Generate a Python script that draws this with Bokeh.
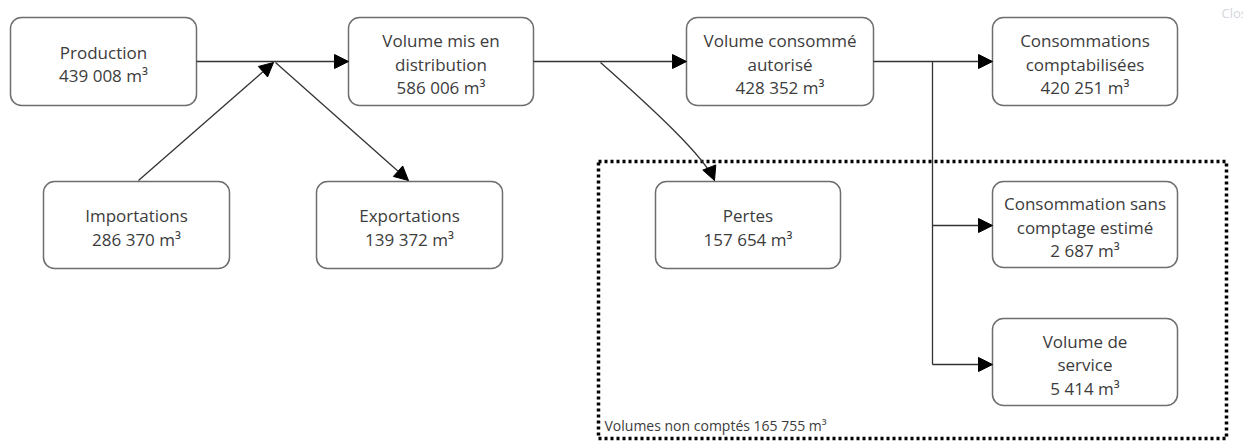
from bokeh.plotting import figure
from bokeh.models import Range1d, Arrow, NormalHead, ColumnDataSource
from bokeh.embed import file_html
from bokeh.resources import INLINE
from bokeh.core.properties import value

# ---------------- data ----------------
node_labels = [
    "Production",
    "Volume mis en\ndistribution",
    "Volume consommé\nautorisé",
    "Consommations\ncomptabilisées",
    "Importations",
    "Exportations",
    "Pertes",
    "Consommation sans\ncomptage estimé",
    "Volume de\nservice",
]
node_volumes = [439008, 586006, 428352, 420251, 286370, 139372, 157654, 2687, 5414]
group_label = "Volumes non comptés"
group_volume = 165755
unit = "m³"

# ---------------- layout (picture pixels) ----------------
box_left = [10, 348, 686, 992, 43, 316, 655, 992, 992]
box_right = [196, 533, 873, 1177, 229, 502, 840, 1177, 1177]
box_top = [17, 17, 17, 17, 181, 181, 181, 181, 318]
box_bottom = [105, 105, 105, 105, 268, 268, 268, 267, 405]

group_box = dict(left=598, right=1226, top=161, bottom=438)

# straight arrows: (x_start, y_start, x_end, y_end)
arrows = [
    (196, 61, 348, 61),
    (138, 180, 273, 62),
    (275, 62, 408, 180),
    (533, 61, 686, 61),
    (873, 61, 992, 61),
    (932, 225, 992, 225),
    (932, 364, 992, 364),
]
# plain segments
segments = [(932, 61, 932, 364)]


def fmt(v):
    return f"{v:,}".replace(",", " ") + " " + unit


W, H = 1243, 442
p = figure(width=W, height=H, output_backend="svg", toolbar_location=None,
           x_range=Range1d(0, W), y_range=Range1d(H, 0),
           x_axis_type=None, y_axis_type=None, min_border=0)
p.grid.visible = False
p.outline_line_color = None
p.background_fill_color = "white"

# dotted group frame
p.quad(left=[group_box["left"]], right=[group_box["right"]],
       top=[group_box["top"]], bottom=[group_box["bottom"]],
       fill_color=None, line_color="black", line_width=3.5, line_dash="3 3")

# connectors
LINE = "#333333"
p.segment(x0=[s[0] for s in segments], y0=[s[1] for s in segments],
          x1=[s[2] for s in segments], y1=[s[3] for s in segments],
          line_color=LINE, line_width=1.3)
for (xs, ys, xe, ye) in arrows:
    p.add_layout(Arrow(x_start=xs, y_start=ys, x_end=xe, y_end=ye,
                       line_color=LINE, line_width=1.3,
                       end=NormalHead(size=14, fill_color="black", line_color="black")))

# curved link to "Pertes"
p.bezier(x0=[600], y0=[62], x1=[714], y1=[180], cx0=[652], cy0=[108],
         cx1=[704], cy1=[156], line_color=LINE, line_width=1.3)
p.add_layout(Arrow(x_start=710, y_start=170, x_end=714, y_end=180,
                   line_alpha=0,
                   end=NormalHead(size=14, fill_color="black", line_color="black")))

# boxes
p.quad(left=box_left, right=box_right, top=box_top, bottom=box_bottom,
       fill_color="white", line_color="#6e6e6e", line_width=1.5,
       border_radius=11)

# box texts
tx, ty, tt = [], [], []
for i, lab in enumerate(node_labels):
    lines = lab.split("\n") + [fmt(node_volumes[i])]
    n = len(lines)
    cx = (box_left[i] + box_right[i]) / 2
    cy = (box_top[i] + box_bottom[i]) / 2
    for k, line in enumerate(lines):
        tx.append(cx)
        ty.append(cy + 2.5 + (k - (n - 1) / 2) * 23.5)
        tt.append(line)
src = ColumnDataSource(dict(x=tx, y=ty, text=tt))
p.text(x="x", y="y", text="text", source=src, text_align="center",
       text_baseline="middle", text_font=value("Open Sans"),
       text_font_size="17px", text_color="#3c3c3c")

# group label
p.text(x=[604], y=[425], text=[f"{group_label} {fmt(group_volume)}"],
       text_align="left", text_baseline="middle",
       text_font=value("Open Sans"), text_font_size="14px", text_color="#3c3c3c")

# faint close button (partly outside the window, as in the reference)
p.text(x=[1221], y=[12], text=["Close"], text_align="left", text_baseline="middle",
       text_font=value("Open Sans"), text_font_size="13px", text_color="#d3d6dc")

open("out.html", "w").write(file_html(p, INLINE))
